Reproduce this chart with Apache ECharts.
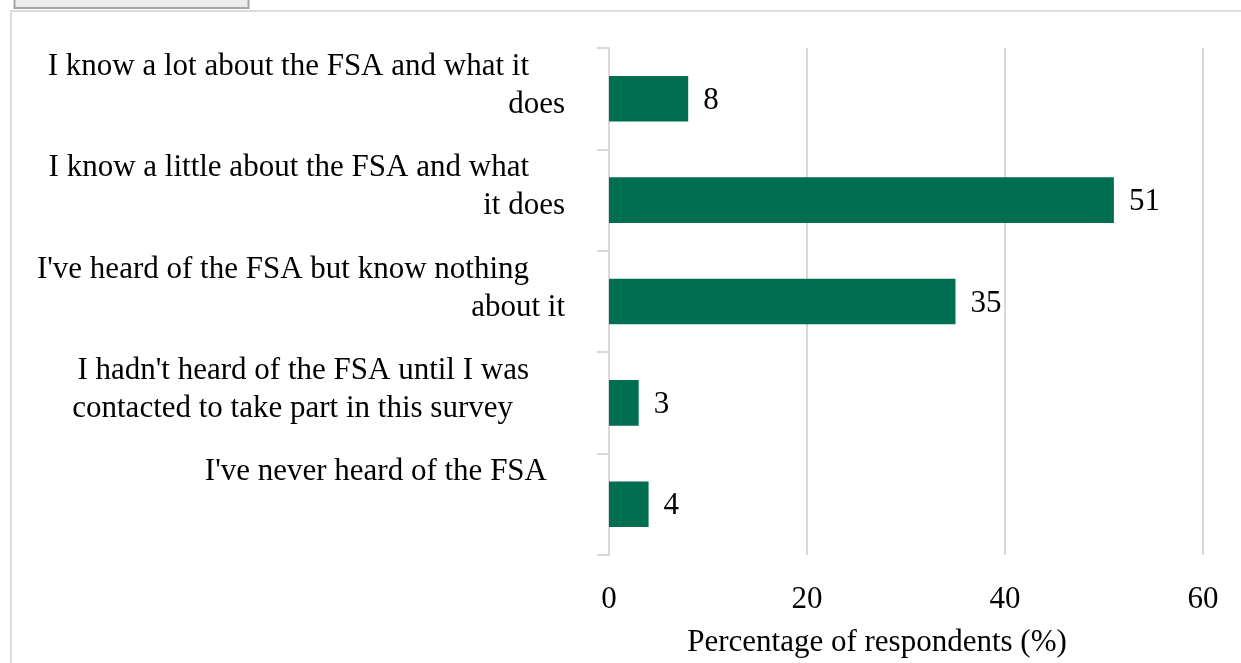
<!DOCTYPE html>
<html>
<head>
<meta charset="utf-8">
<style>
html,body{margin:0;padding:0;background:#fff;}
#chart{width:1241px;height:663px;}
</style>
<script src="https://cdn.jsdelivr.net/npm/echarts@6/dist/echarts.min.js"></script>
</head>
<body>
<div id="chart"></div>
<script>
var categories = [
  "I know a lot about the FSA and what it\ndoes",
  "I know a little about the FSA and what\nit does",
  "I've heard of the FSA but know nothing\nabout it",
  "I hadn't heard of the FSA until I was\ncontacted to take part in this survey",
  "I've never heard of the FSA"
];
var values = [8, 51, 35, 3, 4];
var xTicks = [0, 20, 40, 60];
var xTitle = "Percentage of respondents (%)";

var FONT = "'Liberation Serif','Times New Roman',serif";
var FS = 31;
var chart = echarts.init(document.getElementById('chart'));
chart.setOption({
  animation: false,
  backgroundColor: '#fff',
  graphic: [
    {type:'rect', shape:{x:11, y:11, width:1300, height:700}, style:{fill:'none', stroke:'#dcdcdc', lineWidth:2}, z:-1},
    {type:'rect', shape:{x:14.5, y:-4, width:234, height:12}, style:{fill:'#ececec', stroke:'#a6a6a6', lineWidth:2}}
  ],
  grid: {left: 609, right: 38, top: 48, bottom: 107, containLabel: false},
  xAxis: {
    type: 'value', min: xTicks[0], max: xTicks[xTicks.length-1], interval: 20,
    axisLine: {show: false}, axisTick: {show: false},
    splitLine: {show: true, lineStyle: {color: '#d9d9d9', width: 2}},
    axisLabel: {fontFamily: FONT, fontSize: FS, color: '#000', margin: 29},
    name: xTitle, nameLocation: 'middle', nameGap: 72,
    nameTextStyle: {fontFamily: FONT, fontSize: FS, color: '#000', padding: [0, 58, 0, 0]}
  },
  yAxis: {
    type: 'category', inverse: true, data: categories,
    axisLine: {show: true, lineStyle: {color: '#d9d9d9', width: 2}},
    axisTick: {show: true, length: 12, lineStyle: {color: '#d9d9d9', width: 2}},
    axisLabel: {
      margin: 44, fontFamily: FONT, fontSize: FS, color: '#000', align: 'right',
      verticalAlign: 'middle', padding: [0, 0, 26, 0],
      formatter: function (v, i) {
        var l = v.split('\n');
        if (l.length > 1) return '{a|' + l[0] + '}\n{' + (i === 3 ? 'c' : 'b') + '|' + l[1] + '}';
        return '{s|' + l[0] + '}\n{b| }';
      },
      rich: {
        a: {fontFamily: FONT, fontSize: FS, color: '#000', lineHeight: 38, padding: [0, 36, 0, 0]},
        b: {fontFamily: FONT, fontSize: FS, color: '#000', lineHeight: 38},
        c: {fontFamily: FONT, fontSize: FS, color: '#000', lineHeight: 38, padding: [0, 52, 0, 0]},
        s: {fontFamily: FONT, fontSize: FS, color: '#000', lineHeight: 38, padding: [0, 18, 0, 0]}
      }
    }
  },
  series: [{
    type: 'bar', data: values, barWidth: '45%',
    itemStyle: {color: '#006F51'},
    label: {show: true, position: 'right', distance: 15, offset: [0, 2], fontFamily: FONT, fontSize: FS, color: '#000'}
  }]
});
</script>
</body>
</html>
